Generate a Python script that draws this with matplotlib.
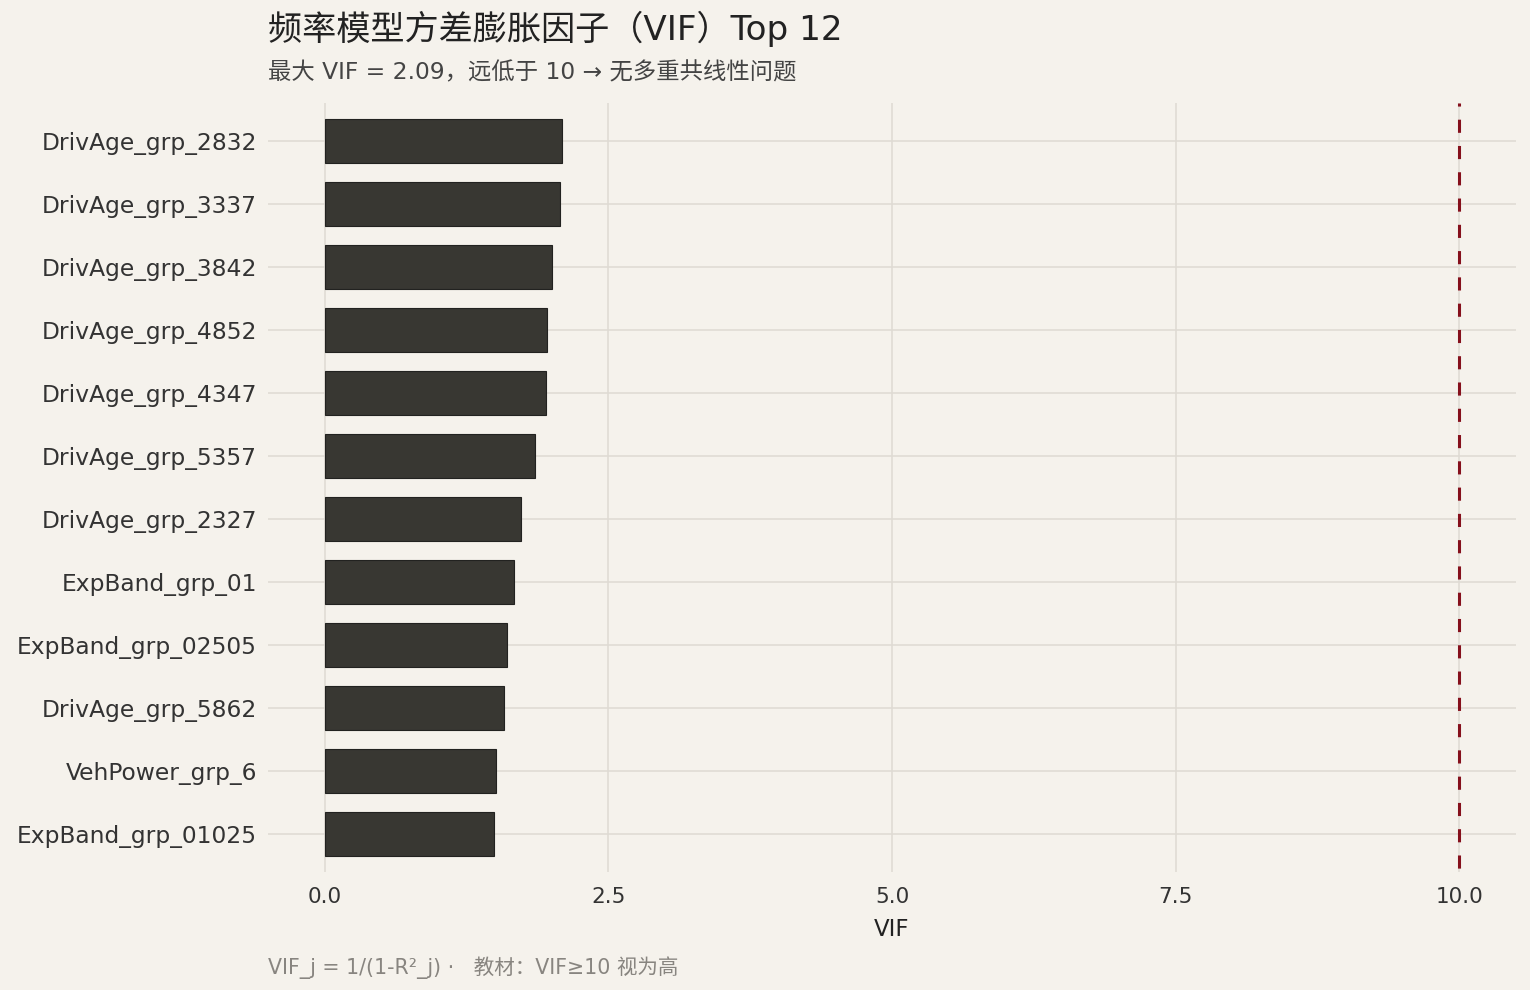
import matplotlib.pyplot as plt
import numpy as np

plt.rcParams['font.family'] = ['DejaVu Sans', 'Noto Sans CJK SC']

BG = "#F5F2EC"
BAR = "#383732"
RED = "#85101C"

features = ["DrivAge_grp_2832", "DrivAge_grp_3337", "DrivAge_grp_3842",
            "DrivAge_grp_4852", "DrivAge_grp_4347", "DrivAge_grp_5357",
            "DrivAge_grp_2327", "ExpBand_grp_01", "ExpBand_grp_02505",
            "DrivAge_grp_5862", "VehPower_grp_6", "ExpBand_grp_01025"]
vif = [2.09, 2.07, 2.00, 1.96, 1.95, 1.85, 1.73, 1.67, 1.61, 1.58, 1.51, 1.49]
threshold = 10

x_ticks = [0.0, 2.5, 5.0, 7.5, 10.0]

fig = plt.figure(figsize=(15.3, 9.9), dpi=100, facecolor=BG)
ax = fig.add_axes([0.1752, 0.1192, 0.8156, 0.7768])
ax.set_facecolor(BG)

pos = np.arange(len(features))[::-1] + 1
ax.barh(pos, vif, height=0.7, color=BAR, edgecolor="#222220", linewidth=0.8, zorder=3)

ax.set_xlim(-0.5, 10.5)
ax.set_ylim(0.4, len(features) + 0.6)

# threshold line, drawn from the top so the dash pattern starts there
y_lo, y_hi = ax.get_ylim()
ax.plot([threshold, threshold], [y_hi, y_lo], color=RED,
        linestyle=(3.3, (4.3, 4.3)), linewidth=2.2, zorder=4)

ax.set_yticks(pos)
ax.set_yticklabels(features)
ax.set_xticks(x_ticks)
ax.set_xticklabels([f"{t:.1f}" for t in x_ticks])
ax.grid(True, color="#DEDAD3", linewidth=1.1, zorder=0)
ax.tick_params(axis='y', length=0, labelsize=16.8, colors="#333333", pad=8)
ax.tick_params(axis='x', length=0, labelsize=15.5, colors="#333333", pad=11)
for s in ax.spines.values():
    s.set_visible(False)
ax.set_xlabel("VIF", fontsize=16.5, color="#222222", labelpad=8)

fig.text(0.1752, 0.960, "频率模型方差膨胀因子（VIF）Top 12", fontsize=24.6,
         color="#222222", va="baseline")
fig.text(0.1752, 0.920, "最大 VIF = 2.09，远低于 10 → 无多重共线性问题", fontsize=16.8,
         color="#444444", va="baseline")
fig.text(0.1752, 0.016, "VIF_j = 1/(1-R²_j) ·   教材：VIF≥10 视为高", fontsize=14.8,
         color="#888580", va="baseline")

fig.savefig("out.png", dpi=100, facecolor=BG)
